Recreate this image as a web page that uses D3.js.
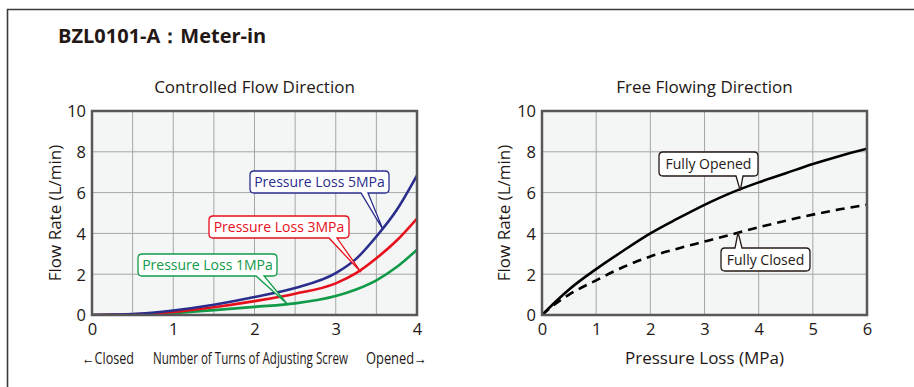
<!DOCTYPE html>
<html lang="en">
<head>
<meta charset="utf-8">
<title>BZL0101-A Meter-in</title>
<style>
body { margin: 0; background: #fff; }
svg text { font-family: "Open Sans", "Noto Sans", sans-serif; fill: #231815; }
.title { font-weight: bold; font-size: 20px; }
.sub { font-size: 17px; }
.tick { font-size: 16.5px; }
.ylab { font-size: 17px; }
.note { font-size: 14px; }
.cap { font-size: 16px; }
.grid line { stroke: #a6a6a6; stroke-width: 1; }
.frame { fill: none; stroke: #595757; stroke-width: 2.5; }
</style>
</head>
<body>
<div id="chart"></div>
<script src="https://d3js.org/d3.v7.min.js"></script>
<script>
// controlled flow direction: turns of adjusting screw vs flow rate
var turns  = [0, 0.5, 1, 1.5, 2, 2.5, 3, 3.25, 3.5, 3.75, 4];
var flow5  = [0, 0.05, 0.22, 0.5, 0.88, 1.32, 2.05, 2.75, 3.85, 5.15, 6.85];
var flow3  = [0, 0.03, 0.15, 0.38, 0.68, 1.04, 1.55, 2.05, 2.78, 3.65, 4.73];
var flow1  = [0, 0.02, 0.1, 0.24, 0.4, 0.57, 0.93, 1.25, 1.7, 2.35, 3.2];

// free flowing direction: pressure loss vs flow rate
var pressure   = [0, 0.25, 0.5, 1, 1.5, 2, 2.5, 3, 3.5, 4, 4.5, 5, 5.5, 6];
var flowOpened = [0, 0.65, 1.25, 2.25, 3.15, 4.0, 4.72, 5.4, 6.0, 6.5, 6.95, 7.4, 7.8, 8.15];
var flowClosed = [0, 0.55, 1.0, 1.7, 2.35, 2.87, 3.25, 3.6, 3.95, 4.3, 4.62, 4.92, 5.18, 5.41];

var yTicks = [0, 2, 4, 6, 8, 10];
var turnTicks = [0, 1, 2, 3, 4];
var pressTicks = [0, 1, 2, 3, 4, 5, 6];

var svg = d3.select("#chart").append("svg")
  .attr("width", 914).attr("height", 387);

// outer frame (runs off right and bottom edges)
svg.append("path")
  .attr("d", "M7.5,400 V9.5 H920")
  .attr("fill", "none").attr("stroke", "#3e3a39").attr("stroke-width", 1.6);

svg.append("text").attr("class", "title")
  .attr("x", 58).attr("y", 43)
  .text("BZL0101-A\uFF1AMeter-in");

function panel(o) {
  var x = d3.scaleLinear().domain(o.xdom).range([o.left, o.right]);
  var y = d3.scaleLinear().domain([0, 10]).range([315, o.top]);
  var g = svg.append("g");

  g.append("rect")
    .attr("x", x.range()[0]).attr("y", y(10))
    .attr("width", x.range()[1] - x.range()[0]).attr("height", y(0) - y(10))
    .attr("fill", "#f4f6f5");

  var grid = g.append("g").attr("class", "grid");
  grid.selectAll(".vx").data(o.xgrid).enter().append("line")
    .attr("x1", function(d) { return x(d); }).attr("x2", function(d) { return x(d); })
    .attr("y1", y(0)).attr("y2", y(10));
  grid.selectAll(".hy").data(yTicks).enter().append("line")
    .attr("y1", function(d) { return y(d); }).attr("y2", function(d) { return y(d); })
    .attr("x1", x.range()[0]).attr("x2", x.range()[1]);

  var line = d3.line()
    .x(function(d) { return x(d[0]); })
    .y(function(d) { return y(d[1]); })
    .curve(d3.curveMonotoneX);

  var clip = "clip" + o.id;
  g.append("clipPath").attr("id", clip).append("rect")
    .attr("x", x.range()[0]).attr("y", y(10))
    .attr("width", x.range()[1] - x.range()[0]).attr("height", y(0) - y(10));

  o.series.forEach(function(s) {
    g.append("path")
      .attr("d", line(d3.zip(o.xs, s.values)))
      .attr("fill", "none")
      .attr("stroke", s.color)
      .attr("stroke-width", 2.6)
      .attr("stroke-dasharray", s.dash || null)
      .attr("clip-path", "url(#" + clip + ")");
  });

  g.append("rect").attr("class", "frame")
    .attr("x", x.range()[0]).attr("y", y(10))
    .attr("width", x.range()[1] - x.range()[0]).attr("height", y(0) - y(10));

  // axes as plain tick labels
  var yAxis = g.append("g")
    .attr("transform", "translate(" + (x.range()[0] - 6) + ",0)")
    .call(d3.axisLeft(y).tickValues(yTicks).tickSize(0).tickPadding(0).tickFormat(d3.format("d")));
  yAxis.select(".domain").remove();
  yAxis.selectAll("text").attr("class", "tick").attr("dy", "0.36em")
    .attr("font-family", null).attr("font-size", null);

  var xAxis = g.append("g")
    .attr("transform", "translate(0," + (y(0) + 4) + ")")
    .call(d3.axisBottom(x).tickValues(o.xticks).tickSize(0).tickPadding(0).tickFormat(d3.format("d")));
  xAxis.select(".domain").remove();
  xAxis.selectAll("text").attr("class", "tick").attr("dy", "0.95em")
    .attr("font-family", null).attr("font-size", null);

  svg.append("text").attr("class", "ylab")
    .attr("transform", "translate(" + o.ylabX + "," + y(5) + ") rotate(-90)")
    .attr("text-anchor", "middle")
    .text("Flow Rate (L/min)");

  svg.append("text").attr("class", "sub")
    .attr("x", (x.range()[0] + x.range()[1]) / 2).attr("y", 93)
    .attr("text-anchor", "middle")
    .text(o.title);

  // callouts: box with a narrow tail pointing at the curve
  o.notes.forEach(function(n) {
    var tx = x(n.at[0]), ty = y(n.at[1]);
    var bx = n.box[0], by = n.box[1], bw = n.box[2], bh = n.box[3], r = 4;
    var t0 = n.tail[0], t1 = n.tail[1];
    var p;
    if (n.below) {
      // tail on top edge
      p = "M" + (bx + r) + "," + by + " H" + t0 + " L" + tx + "," + ty + " L" + t1 + "," + by +
        " H" + (bx + bw - r) + " Q" + (bx + bw) + "," + by + " " + (bx + bw) + "," + (by + r) +
        " V" + (by + bh - r) + " Q" + (bx + bw) + "," + (by + bh) + " " + (bx + bw - r) + "," + (by + bh) +
        " H" + (bx + r) + " Q" + bx + "," + (by + bh) + " " + bx + "," + (by + bh - r) +
        " V" + (by + r) + " Q" + bx + "," + by + " " + (bx + r) + "," + by + "Z";
    } else {
      p = "M" + (bx + r) + "," + by + " H" + (bx + bw - r) +
        " Q" + (bx + bw) + "," + by + " " + (bx + bw) + "," + (by + r) +
        " V" + (by + bh - r) + " Q" + (bx + bw) + "," + (by + bh) + " " + (bx + bw - r) + "," + (by + bh) +
        " H" + t1 + " L" + tx + "," + ty + " L" + t0 + "," + (by + bh) +
        " H" + (bx + r) + " Q" + bx + "," + (by + bh) + " " + bx + "," + (by + bh - r) +
        " V" + (by + r) + " Q" + bx + "," + by + " " + (bx + r) + "," + by + "Z";
    }
    svg.append("path").attr("d", p)
      .attr("fill", "#fff").attr("stroke", n.color).attr("stroke-width", 1.3);
    svg.append("text").attr("class", "note")
      .attr("x", bx + bw / 2).attr("y", by + bh / 2 + 5)
      .attr("text-anchor", "middle")
      .style("fill", n.text)
      .text(n.label);
  });
  return x;
}

var blue = "#2a2d8c", red = "#e60f1c", green = "#119a48";

var xl = panel({
  id: "L", left: 92, right: 417, top: 111,
  xdom: [0, 4], xs: turns,
  xgrid: d3.range(0, 4.01, 0.5), xticks: turnTicks,
  ylabX: 61, title: "Controlled Flow Direction",
  series: [
    { values: flow1, color: green },
    { values: flow3, color: red },
    { values: flow5, color: blue }
  ],
  notes: [
    { label: "Pressure Loss 5MPa", at: [3.58, 4.2], box: [250, 171, 139, 22], tail: [361, 368], color: blue, text: blue },
    { label: "Pressure Loss 3MPa", at: [3.31, 2.1], box: [209, 216, 140, 22], tail: [329, 337], color: red, text: red },
    { label: "Pressure Loss 1MPa", at: [2.4, 0.55], box: [138, 254, 139, 22], tail: [256, 264], color: green, text: green }
  ]
});

// x axis caption under left chart (condensed lettering)
var cap = svg.append("g");
cap.append("text").attr("class", "cap").attr("x", 82).attr("y", 364)
  .attr("textLength", 52).attr("lengthAdjust", "spacingAndGlyphs").text("\u2190Closed");
cap.append("text").attr("class", "cap").attr("x", 153).attr("y", 364)
  .attr("textLength", 195).attr("lengthAdjust", "spacingAndGlyphs").text("Number of Turns of Adjusting Screw");
cap.append("text").attr("class", "cap").attr("x", 366).attr("y", 364)
  .attr("textLength", 61).attr("lengthAdjust", "spacingAndGlyphs").text("Opened\u2192");

var xr = panel({
  id: "R", left: 542, right: 867, top: 111,
  xdom: [0, 6], xs: pressure,
  xgrid: pressTicks, xticks: pressTicks,
  ylabX: 510, title: "Free Flowing Direction",
  series: [
    { values: flowOpened, color: "#000" },
    { values: flowClosed, color: "#000", dash: "9,6" }
  ],
  notes: [
    { label: "Fully Opened", at: [3.66, 6.1], box: [659, 152, 99, 24], tail: [736, 743], color: "#231815", text: "#231815" },
    { label: "Fully Closed", at: [3.62, 4.05], box: [721, 248, 89, 23], tail: [735, 742], color: "#231815", text: "#231815", below: true }
  ]
});

svg.append("text").attr("class", "sub")
  .attr("x", (xr.range()[0] + xr.range()[1]) / 2).attr("y", 364)
  .attr("text-anchor", "middle")
  .text("Pressure Loss (MPa)");
</script>
</body>
</html>
